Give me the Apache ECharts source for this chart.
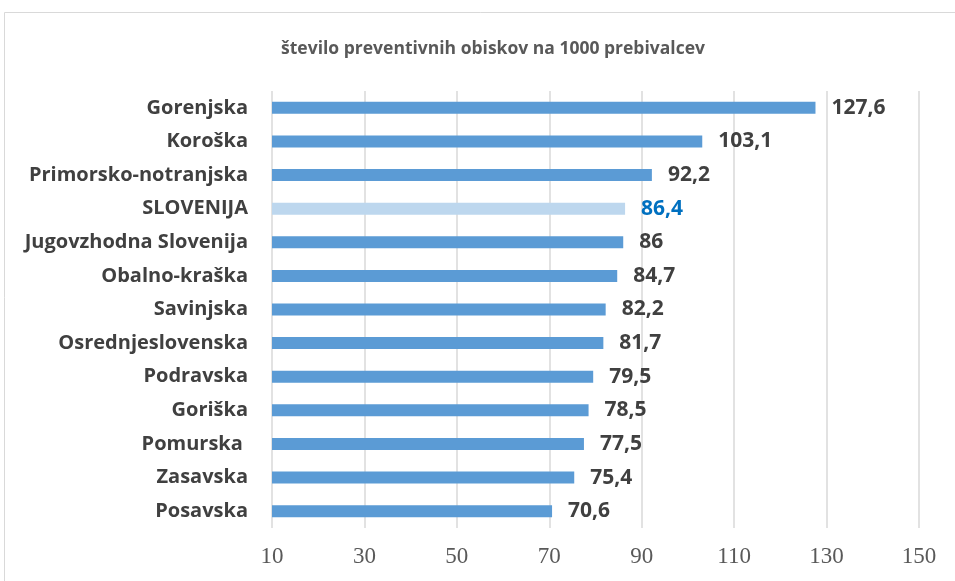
<!DOCTYPE html>
<html>
<head>
<meta charset="utf-8">
<script src="https://cdn.jsdelivr.net/npm/echarts@6/dist/echarts.min.js"></script>
<style>
html, body { margin: 0; padding: 0; background: #fff; }
#main { width: 955px; height: 581px; }
</style>
</head>
<body>
<div id="main"></div>
<script>
var regions = ['Gorenjska', 'Koroška', 'Primorsko-notranjska', 'SLOVENIJA', 'Jugovzhodna Slovenija',
    'Obalno-kraška', 'Savinjska', 'Osrednjeslovenska', 'Podravska', 'Goriška', 'Pomurska ', 'Zasavska', 'Posavska'];
var visits = [127.6, 103.1, 92.2, 86.4, 86, 84.7, 82.2, 81.7, 79.5, 78.5, 77.5, 75.4, 70.6];
var highlight = 'SLOVENIJA';

var barData = visits.map(function (v, i) {
    var hl = regions[i] == highlight;
    return {
        value: v,
        itemStyle: { color: hl ? '#BDD7EE' : '#5B9BD5' },
        label: { color: hl ? '#0070C0' : '#404040' }
    };
});

var option = {
    backgroundColor: '#fff',
    animation: false,
    title: {
        text: 'število preventivnih obiskov na 1000 prebivalcev',
        left: 488,
        textAlign: 'center',
        top: 35,
        textStyle: { fontFamily: 'Open Sans', fontWeight: 'bold', fontSize: 17.5, color: '#595959' }
    },
    graphic: [{
        type: 'rect',
        shape: { x: 4.5, y: 12.5, width: 960, height: 600 },
        style: { fill: 'none', stroke: '#d9d9d9', lineWidth: 1 },
        silent: true
    }],
    grid: { left: 272, right: 36, top: 91, bottom: 53 },
    xAxis: {
        type: 'value',
        min: 10,
        max: 150,
        interval: 20,
        axisLine: { show: false },
        axisTick: { show: false },
        splitLine: { show: true, lineStyle: { color: '#d9d9d9', width: 1.5 } },
        axisLabel: { fontFamily: 'Liberation Serif', fontSize: 23, color: '#595959', margin: 17 }
    },
    yAxis: {
        type: 'category',
        inverse: true,
        data: regions,
        axisLine: { show: false },
        axisTick: { show: false },
        axisLabel: { fontFamily: 'Open Sans', fontWeight: 'bold', fontSize: 20, color: '#404040', margin: 24 }
    },
    series: [{
        type: 'bar',
        barWidth: 12,
        data: barData,
        label: {
            show: true,
            position: 'right',
            distance: 16,
            fontFamily: 'Open Sans',
            fontWeight: 'bold',
            fontSize: 21,
            formatter: function (p) { return String(p.value).replace('.', ','); }
        }
    }]
};

var chart = echarts.init(document.getElementById('main'));
chart.setOption(option);
</script>
</body>
</html>
